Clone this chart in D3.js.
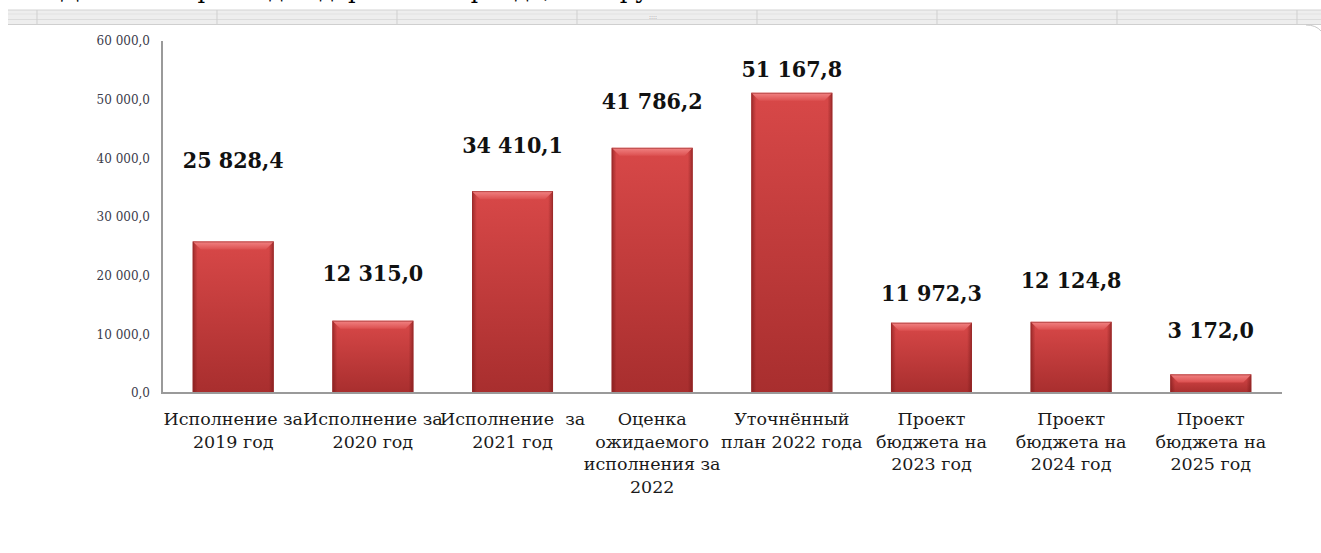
<!DOCTYPE html>
<meta charset="utf-8">
<style>
body { margin: 0; background: #fff; }
svg { display: block; }
.tick-label { font-family: "DejaVu Serif", serif; font-size: 12px; fill: #3a3a4a; }
.cat-label { font-family: "DejaVu Serif", serif; font-size: 17.5px; fill: #1a1a1a; }
.value-label { font-family: "DejaVu Serif Condensed", "DejaVu Serif", serif; font-stretch: condensed; font-size: 23px; font-weight: bold; fill: #111; }
.axis-line { stroke: #9a9a9a; stroke-width: 2; fill: none; }
</style>
<body>
<script src="https://cdn.jsdelivr.net/npm/d3@7"></script>
<script>

// data (тыс. руб.)
var categories = [
  ["Исполнение за", "2019 год"],
  ["Исполнение за", "2020 год"],
  ["Исполнение  за", "2021 год"],
  ["Оценка", "ожидаемого", "исполнения за", "2022"],
  ["Уточнённый", "план 2022 года"],
  ["Проект", "бюджета на", "2023 год"],
  ["Проект", "бюджета на", "2024 год"],
  ["Проект", "бюджета на", "2025 год"]
];
var values = [25828.4, 12315.0, 34410.1, 41786.2, 51167.8, 11972.3, 12124.8, 3172.0];
var yTicks = [0, 10000, 20000, 30000, 40000, 50000, 60000];

// how far each value label sits above its bar, px (as placed in the source)
var labelLift = [73, 40, 38, 39, 16, 22, 34, 36];

var width = 1321,
    height = 553;

var ru = d3.formatLocale({decimal: ",", thousands: " ", grouping: [3], currency: ["", ""]});
var fmt = ru.format(",.1f");

var svg = d3.select("body").append("svg")
    .attr("width", width)
    .attr("height", height);

// ---- toolbar strip left over from the document at the top ----
var bar = svg.append("g").attr("class", "ruler");
bar.append("rect").attr("x", 8).attr("y", 10).attr("width", width - 8).attr("height", 15).attr("fill", "#eeeeee");
[[10, "#d2d2d2"], [14, "#e2e2e2"], [19.5, "#dcdcdc"], [24.5, "#cfcfcf"]].forEach(function(l) {
  bar.append("line").attr("x1", 8).attr("x2", width).attr("y1", l[0]).attr("y2", l[0])
     .attr("stroke", l[1]).attr("stroke-width", 1);
});
d3.range(37, width, 180).forEach(function(x) {
  bar.append("line").attr("x1", x).attr("x2", x).attr("y1", 10).attr("y2", 25)
     .attr("stroke", "#cfcfcf").attr("stroke-width", 1);
});
bar.append("text").attr("x", 653).attr("y", 19).attr("text-anchor", "middle")
   .attr("font-size", 6).attr("fill", "#999").attr("font-family", "DejaVu Sans").text("::::");
bar.append("path").attr("d", "M1306,25 Q1316,25 1321,31").attr("stroke", "#c8c8c8").attr("fill", "none");

// cut-off line of document text above the strip (only its descenders show)
svg.append("text")
    .attr("x", 60).attr("y", -2)
    .attr("font-family", "DejaVu Serif, serif").attr("font-size", 24).attr("fill", "#000")
    .text("Динамика расходов дорожного фонда, тыс. рублей");

// ---- chart ----
var x = d3.scaleBand()
    .domain(d3.range(values.length))
    .range([162, 1282])
    .paddingInner(0.42)
    .paddingOuter(0.22);

var y = d3.scaleLinear()
    .domain([0, 60000])
    .range([393, 41]);

var defs = svg.append("defs");

var gMain = defs.append("linearGradient").attr("id", "barFill").attr("x1", 0).attr("y1", 0).attr("x2", 0).attr("y2", 1);
gMain.append("stop").attr("offset", "0%").attr("stop-color", "#d84848");
gMain.append("stop").attr("offset", "100%").attr("stop-color", "#a82e2e");

var gSide = defs.append("linearGradient").attr("id", "barSide").attr("x1", 0).attr("y1", 0).attr("x2", 1).attr("y2", 0);
gSide.append("stop").attr("offset", "0%").attr("stop-color", "#6e1414").attr("stop-opacity", 0.55);
gSide.append("stop").attr("offset", "6%").attr("stop-color", "#6e1414").attr("stop-opacity", 0);
gSide.append("stop").attr("offset", "94%").attr("stop-color", "#6e1414").attr("stop-opacity", 0);
gSide.append("stop").attr("offset", "100%").attr("stop-color", "#6e1414").attr("stop-opacity", 0.55);

var gTop = defs.append("linearGradient").attr("id", "barTop").attr("x1", 0).attr("y1", 0).attr("x2", 0).attr("y2", 1);
gTop.append("stop").attr("offset", "0%").attr("stop-color", "#f28484");
gTop.append("stop").attr("offset", "100%").attr("stop-color", "#dc5050");

var bars = svg.append("g").selectAll("g")
  .data(values)
  .enter().append("g");

bars.append("rect")
    .attr("x", function(d, i) { return x(i); })
    .attr("y", function(d) { return y(d); })
    .attr("width", x.bandwidth())
    .attr("height", function(d) { return y(0) - y(d); })
    .attr("fill", "url(#barFill)");

bars.append("rect")
    .attr("x", function(d, i) { return x(i); })
    .attr("y", function(d) { return y(d); })
    .attr("width", x.bandwidth())
    .attr("height", function(d) { return y(0) - y(d); })
    .attr("fill", "url(#barSide)");

// top bevel
bars.append("path")
    .attr("d", function(d, i) {
      var x0 = x(i), x1 = x(i) + x.bandwidth(), t = y(d), b = Math.min(8, (y(0) - y(d)) / 2);
      return "M" + x0 + "," + t + "L" + x1 + "," + t + "L" + (x1 - b) + "," + (t + b) +
             "L" + (x0 + b) + "," + (t + b) + "Z";
    })
    .attr("fill", "url(#barTop)");

bars.append("rect")
    .attr("x", function(d, i) { return x(i) + 0.5; })
    .attr("y", function(d) { return y(d) + 0.5; })
    .attr("width", x.bandwidth() - 1)
    .attr("height", function(d) { return y(0) - y(d) - 1; })
    .attr("fill", "none")
    .attr("stroke", "#9a2a2a")
    .attr("stroke-opacity", 0.6);

// value labels
svg.append("g").selectAll("text")
  .data(values)
  .enter().append("text")
    .attr("class", "value-label")
    .attr("x", function(d, i) { return x(i) + x.bandwidth() / 2; })
    .attr("y", function(d, i) { return y(d) - labelLift[i]; })
    .attr("text-anchor", "middle")
    .text(function(d) { return fmt(d); });

// axes
var yAxis = svg.append("g")
    .attr("transform", "translate(162,0)")
    .call(d3.axisLeft(y).tickValues(yTicks).tickSize(0).tickPadding(12).tickFormat(fmt));
yAxis.select(".domain").remove();
yAxis.selectAll("text").attr("class", "tick-label").attr("font-family", null).attr("font-size", null).attr("fill", null);
yAxis.attr("font-family", null).attr("font-size", null);

svg.append("line").attr("class", "axis-line")
    .attr("x1", 162).attr("x2", 162).attr("y1", y(60000)).attr("y2", y(0) + 1);
svg.append("line").attr("class", "axis-line")
    .attr("x1", 161).attr("x2", 1282).attr("y1", y(0)).attr("y2", y(0));

// category labels
var cats = svg.append("g").selectAll("text")
  .data(categories)
  .enter().append("text")
    .attr("class", "cat-label")
    .attr("text-anchor", "middle")
    .attr("x", function(d, i) { return x(i) + x.bandwidth() / 2; })
    .attr("y", 425)
    .style("white-space", "pre");

cats.selectAll("tspan")
  .data(function(d) { return d; })
  .enter().append("tspan")
    .attr("x", function() { return this.parentNode.getAttribute("x"); })
    .attr("dy", function(d, j) { return j ? 22.5 : 0; })
    .text(function(d) { return d; });

</script>
